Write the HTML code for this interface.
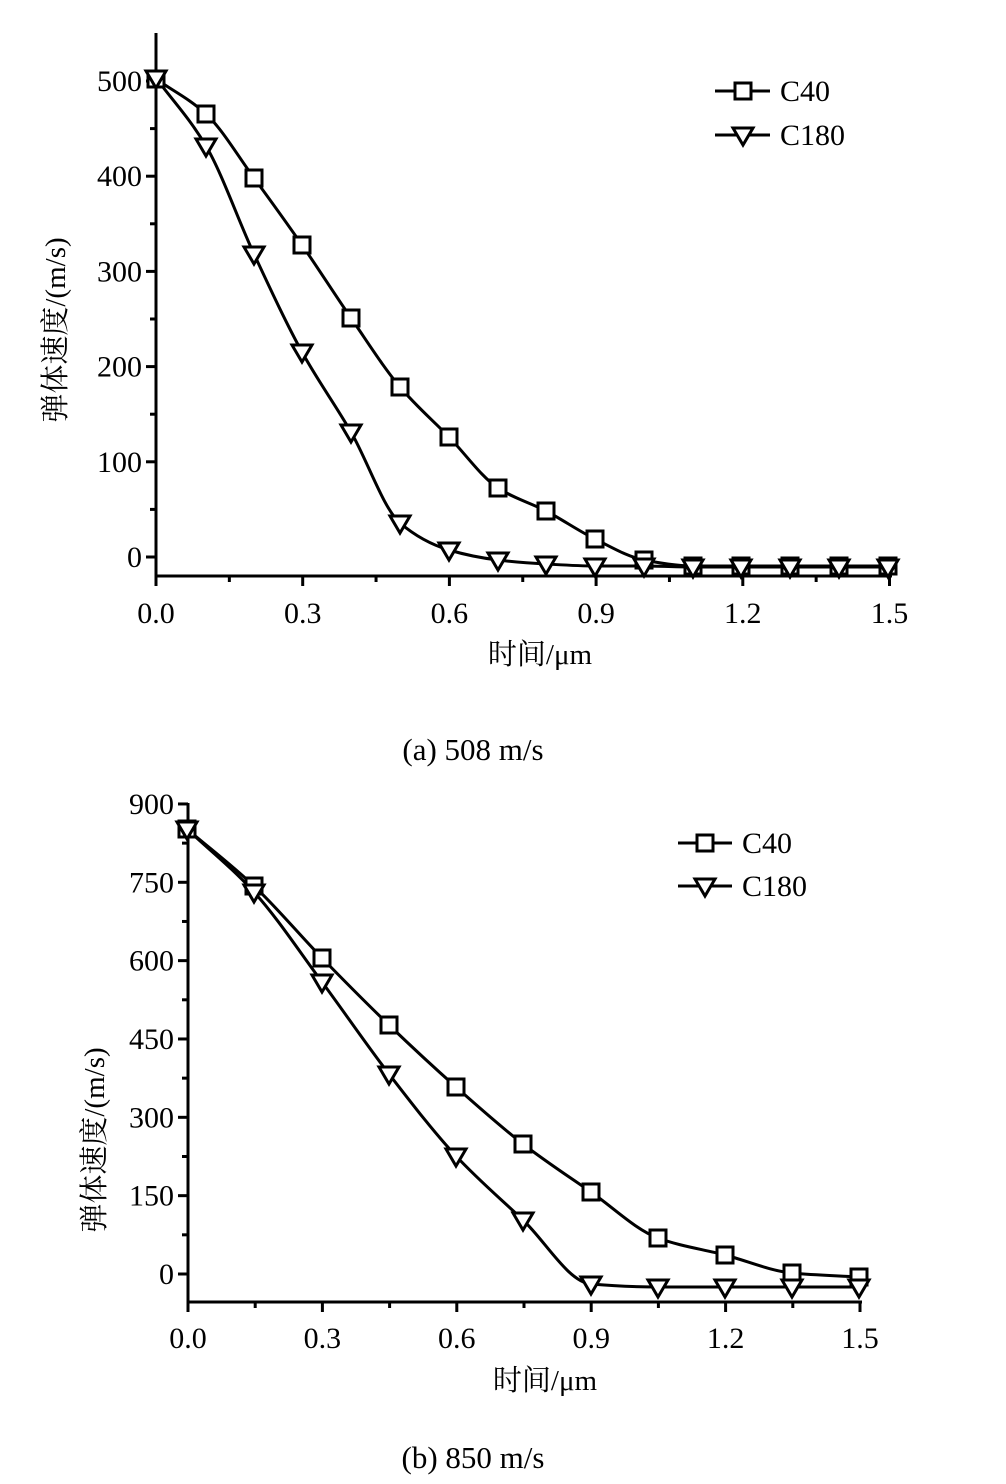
<!DOCTYPE html>
<html><head><meta charset="utf-8"><style>
html,body{margin:0;padding:0;background:#fff}
svg{display:block}
text{font-family:"Liberation Serif","Noto Serif CJK SC",serif;fill:#000}
</style></head><body>
<svg id="s" width="1006" height="1484" viewBox="0 0 1006 1484" xmlns="http://www.w3.org/2000/svg">
<g stroke="#000" stroke-width="3" fill="none">
<line x1="156" y1="33" x2="156" y2="577"/>
<line x1="155" y1="576" x2="892" y2="576"/>
<line x1="188" y1="803" x2="188" y2="1303"/>
<line x1="187" y1="1302" x2="862" y2="1302"/>
</g>
<g id="ticks" stroke="#000" stroke-width="3"></g>
<g font-size="30" text-anchor="end" id="yl"></g>
<g font-size="30" text-anchor="middle" id="xl"></g>
<g id="series" stroke="#000" stroke-width="3" fill="none"></g>
<text x="540" y="664" font-size="29" text-anchor="middle">时间/μm</text>
<text x="545" y="1390" font-size="29" text-anchor="middle">时间/μm</text>
<text transform="translate(65,330) rotate(-90)" font-size="29" text-anchor="middle">弹体速度/(m/s)</text>
<text transform="translate(104,1140) rotate(-90)" font-size="29" text-anchor="middle">弹体速度/(m/s)</text>
<text x="473" y="760" font-size="31" text-anchor="middle">(a) 508 m/s</text>
<text x="473" y="1468" font-size="31" text-anchor="middle">(b) 850 m/s</text>
<g stroke="#000" stroke-width="3" fill="#fff">
<line x1="715" y1="91" x2="770" y2="91"/><rect x="735" y="83" width="16" height="16"/>
<line x1="715" y1="135" x2="770" y2="135"/><path d="M733,128 L753,128 L743,145 Z"/>
<line x1="678" y1="843" x2="732" y2="843"/><rect x="697" y="835" width="16" height="16"/>
<line x1="678" y1="886" x2="732" y2="886"/><path d="M695,879 L715,879 L705,896 Z"/>
</g>
<g font-size="30"><text x="780" y="101">C40</text><text x="780" y="145">C180</text>
<text x="742" y="853">C40</text><text x="742" y="896">C180</text></g>
</svg>
<script>
const NS="http://www.w3.org/2000/svg";
function el(p,t,a,txt){const e=document.createElementNS(NS,t);for(const k in a)e.setAttribute(k,a[k]);if(txt!==undefined)e.textContent=txt;document.getElementById(p).appendChild(e);}
for(let i=0;i<=10;i++){const y=557-i*47.6;const maj=i%2==0;el("ticks","line",{x1:maj?146:150,y1:y,x2:156,y2:y});if(maj)el("yl","text",{x:142,y:y+10},String(i*50));}
for(let i=0;i<=10;i++){const x=156+i*73.35;const maj=i%2==0;el("ticks","line",{x1:x,y1:576,x2:x,y2:maj?586:582});if(maj)el("xl","text",{x:x,y:623},(i*0.15).toFixed(1));}
for(let i=0;i<=12;i++){const y=1274-i*39.17;const maj=i%2==0;el("ticks","line",{x1:maj?178:182,y1:y,x2:188,y2:y});if(maj)el("yl","text",{x:174,y:y+10},String(i*75));}
for(let i=0;i<=10;i++){const x=188+i*67.2;const maj=i%2==0;el("ticks","line",{x1:x,y1:1302,x2:x,y2:maj?1312:1308});if(maj)el("xl","text",{x:x,y:1348},(i*0.15).toFixed(1));}
function path(P){const n=P.length,d=[],m=[];for(let i=0;i<n-1;i++)d.push((P[i+1][1]-P[i][1])/(P[i+1][0]-P[i][0]));
m[0]=d[0];m[n-1]=d[n-2];for(let i=1;i<n-1;i++){const a=d[i-1],b=d[i];m[i]=(a*b<=0)?0:2*a*b/(a+b);}
let s="M"+P[0][0]+","+P[0][1];for(let i=0;i<n-1;i++){const h=(P[i+1][0]-P[i][0])/3;s+=` C${P[i][0]+h},${P[i][1]+m[i]*h} ${P[i+1][0]-h},${P[i+1][1]-m[i+1]*h} ${P[i+1][0]},${P[i+1][1]}`;}
el("series","path",{d:s});}
function sq(pts){pts.forEach(p=>el("series","rect",{x:p[0]-8,y:p[1]-8,width:16,height:16,fill:"#fff"}));}
function tri(pts){pts.forEach(p=>el("series","path",{d:`M${p[0]-10},${p[1]-7} L${p[0]+10},${p[1]-7} L${p[0]},${p[1]+10} Z`,fill:"#fff"}));}
const a1=[[156,79],[206,114],[254,178],[302,245],[351,318],[400,387],[449,437],[498,488],[546,511],[595,539],[644,560],[693,566],[741,566],[790,566],[839,566],[888,566]];
const a2=[[156,78],[206,146],[254,254],[302,352],[351,432],[400,523],[449,550],[498,560],[546,564],[595,566],[644,566],[693,567],[741,567],[790,567],[839,567],[888,567]];
const b1=[[187,829],[254,886],[322,958],[389,1025],[456,1087],[523,1144],[591,1192],[658,1238],[725,1255],[792,1273],[859,1277]];
const b2=[[187,829],[254,892],[322,982],[389,1074],[456,1156],[523,1220],[591,1284],[658,1287],[725,1287],[792,1287],[859,1287]];
path(a1);path(a2);path(b1);path(b2);sq(a1);tri(a2);sq(b1);tri(b2);
</script>
</body></html>
